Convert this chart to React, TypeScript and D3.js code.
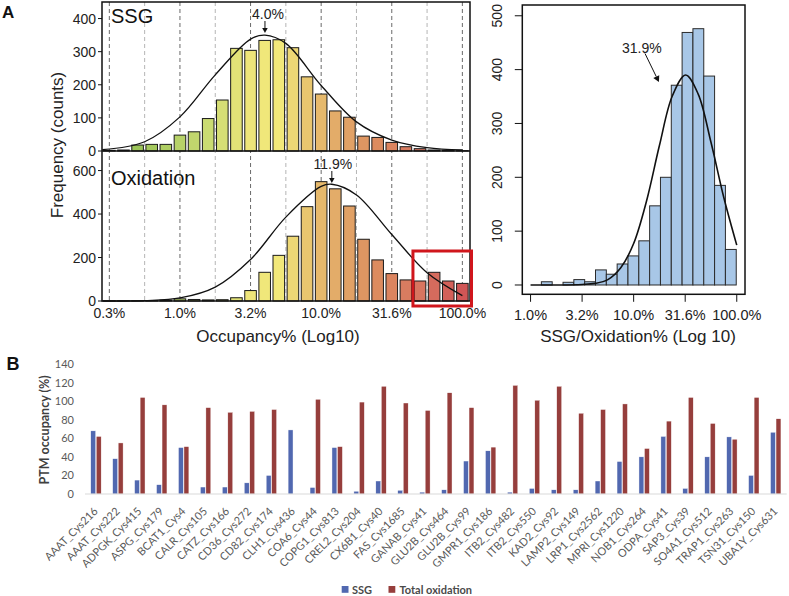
import React from 'react';
import * as d3 from 'd3';

// ---------- Panel A (left): log10 occupancy histograms ----------
const histBinCenters = [-0.5, -0.4, -0.3, -0.2, -0.1, 0.0, 0.1, 0.2, 0.3, 0.4, 0.5, 0.6, 0.7, 0.8, 0.9, 1.0, 1.1, 1.2, 1.3, 1.4, 1.5, 1.6, 1.7, 1.8, 1.9, 2.0];
const ssgCounts = [2, 3, 18, 20, 20, 48, 58, 98, 154, 310, 304, 334, 336, 312, 224, 172, 121, 102, 45, 41, 26, 13, 7, 3, 2, 1];
const oxCounts = [1, 1, 1, 2, 4, 10, 7, 5, 6, 15, 48, 132, 210, 298, 434, 549, 516, 437, 284, 189, 126, 97, 92, 132, 92, 81];

const ssgFitX = [-0.55, -0.25, 0.0, 0.25, 0.5, 0.602, 0.75, 1.0, 1.25, 1.5, 1.75, 2.0];
const ssgFitY = [4, 28, 103, 230, 338, 350, 325, 198, 88, 33, 10, 3];
const oxFitX = [-0.55, -0.25, 0.0, 0.25, 0.5, 0.75, 1.0, 1.0755, 1.25, 1.5, 1.75, 2.0];
const oxFitY = [0, 2, 14, 64, 191, 386, 527, 537, 488, 306, 130, 25];

const occGridLog = [-0.5, -0.25, 0, 0.25, 0.5, 0.75, 1.0, 1.25, 1.5, 1.75, 2.0];
const occTickLog = [-0.5, 0, 0.5, 1.0, 1.5, 2.0];
const occTickLabels = ['0.3%', '1.0%', '3.2%', '10.0%', '31.6%', '100.0%'];
const ssgYTicks = [0, 100, 200, 300, 400];
const oxYTicks = [0, 200, 400, 600];
const ssgPeakLabel = '4.0%';
const ssgPeakLog = Math.log10(4.0);
const oxPeakLabel = '11.9%';
const oxPeakLog = Math.log10(11.9);

// ---------- Panel A (right): SSG/Oxidation ratio histogram ----------
const ratioBinLeft = [0.105, 0.21, 0.315, 0.42, 0.525, 0.63, 0.735, 0.84, 0.945, 1.05, 1.155, 1.26, 1.365, 1.47, 1.575, 1.68, 1.785, 1.89];
const ratioBinWidth = 0.105;
const ratioCounts = [6, 0, 5, 10, 6, 28, 20, 39, 54, 82, 147, 200, 371, 469, 476, 388, 185, 66];
const ratioFitX = [0, 0.25, 0.5, 0.625, 0.75, 0.875, 1.0, 1.125, 1.25, 1.375, 1.504, 1.625, 1.75, 1.875, 2.0];
const ratioFitY = [0, 0, 1, 3, 10, 32, 77, 156, 259, 351, 390, 355, 265, 162, 74];
const ratioXTickLog = [0, 0.5, 1.0, 1.5, 2.0];
const ratioXTickLabels = ['1.0%', '3.2%', '10.0%', '31.6%', '100.0%'];
const ratioYTicks = [0, 100, 200, 300, 400, 500];
const ratioPeakLabel = '31.9%';

// ---------- Panel B: PTM occupancy per site ----------
const sites = ['AAAT_Cys216', 'AAAT_Cys222', 'ADPGK_Cys415', 'ASPG_Cys179', 'BCAT1_Cys4', 'CALR_Cys105', 'CATZ_Cys166', 'CD36_Cys272', 'CD82_Cys174', 'CLH1_Cys436', 'COA6_Cys44', 'COPG1_Cys813', 'CREL2_Cys204', 'CX6B1_Cys40', 'FAS_Cys1685', 'GANAB_Cys41', 'GLU2B_Cys464', 'GLU2B_Cys99', 'GMPR1_Cys186', 'ITB2_Cys482', 'ITB2_Cys550', 'KAD2_Cys92', 'LAMP2_Cys149', 'LRP1_Cys2562', 'MPRI_Cys1220', 'NOB1_Cys264', 'ODPA_Cys41', 'SAP3_Cys39', 'SO4A1_Cys512', 'TRAP1_Cys263', 'TSN31_Cys150', 'UBA1Y_Cys631'];
const ssgOcc = [68, 38, 15, 10, 50, 7.5, 7.5, 12, 20, 69, 7, 50, 3, 14, 4, 2, 4.5, 35.5, 46.5, 2, 6, 4.5, 4.5, 14, 35, 40, 62, 6, 40, 61.5, 20, 66.5];
const oxOcc = [62, 55, 104, 96, 51, 93, 88, 89, 91, 0, 102, 51, 99, 116, 98, 90, 109, 93, 50.5, 117, 101, 116, 87, 91, 97, 49, 78.5, 104, 76, 59, 104, 81];
const occYTicks = [0, 20, 40, 60, 80, 100, 120, 140];

const ARIAL = '"Liberation Sans", Arial, Helvetica, sans-serif';
const CALIBRI = 'Lato, "Open Sans", sans-serif';

const colorScale = d3
  .scaleLinear<string>()
  .domain([-0.5, -0.2, 0.2, 0.5, 0.7, 0.9, 1.1, 1.4, 1.7, 2.0])
  .range(['#8CBE50', '#A4C85D', '#CADB72', '#EEE57A', '#F2E87A', '#E8C66F', '#E3AC69', '#DC8B5F', '#D87560', '#D05656']);

function Arrow({ x1, y1, x2, y2, head = 5 }: { x1: number; y1: number; x2: number; y2: number; head?: number }) {
  const ang = Math.atan2(y2 - y1, x2 - x1);
  const hw = head * 0.55;
  const bx = x2 - head * Math.cos(ang);
  const by = y2 - head * Math.sin(ang);
  const p1 = [bx + hw * Math.sin(ang), by - hw * Math.cos(ang)];
  const p2 = [bx - hw * Math.sin(ang), by + hw * Math.cos(ang)];
  return (
    <g>
      <line x1={x1} y1={y1} x2={bx} y2={by} stroke="#111" strokeWidth={1} />
      <polygon points={`${x2},${y2} ${p1[0]},${p1[1]} ${p2[0]},${p2[1]}`} fill="#111" />
    </g>
  );
}

function LeftPanel() {
  const x0 = 102, x1 = 470, yTop = 2, yMid = 151, yBot = 301;
  const x = d3.scaleLinear().domain([-0.552, 2.054]).range([x0, x1]);
  const yS = d3.scaleLinear().domain([0, 450]).range([yMid, yTop]);
  const yO = d3.scaleLinear().domain([0, 690]).range([yBot, yMid]);
  const barW = x(0.082) - x(0);
  const lineS = d3.line<number>().x((_, i) => x(ssgFitX[i])).y((d) => yS(d)).curve(d3.curveCatmullRom);
  const lineO = d3.line<number>().x((_, i) => x(oxFitX[i])).y((d) => yO(d)).curve(d3.curveCatmullRom);
  const majors = new Set(occTickLog);
  return (
    <g fontFamily={ARIAL}>
      {occGridLog.map((g) => (
        <line key={g} x1={x(g)} x2={x(g)} y1={yTop} y2={yBot}
          stroke={majors.has(g) ? '#6a6a6a' : '#b5b5b5'} strokeWidth={1} strokeDasharray="4,3" />
      ))}
      {histBinCenters.map((c, i) => (
        <rect key={'s' + c} x={x(c) - barW / 2} y={yS(ssgCounts[i])} width={barW}
          height={yMid - yS(ssgCounts[i])} fill={colorScale(c)} stroke="#1a1a1a" strokeWidth={1} />
      ))}
      {histBinCenters.map((c, i) => (
        <rect key={'o' + c} x={x(c) - barW / 2} y={yO(oxCounts[i])} width={barW}
          height={yBot - yO(oxCounts[i])} fill={colorScale(c)} stroke="#1a1a1a" strokeWidth={1} />
      ))}
      <path d={lineS(ssgFitY) || ''} fill="none" stroke="#111" strokeWidth={1.3} />
      <path d={lineO(oxFitY) || ''} fill="none" stroke="#111" strokeWidth={1.3} />
      <rect x={x0} y={yTop} width={x1 - x0} height={yBot - yTop} fill="none" stroke="#111" strokeWidth={1.5} />
      <line x1={x0} x2={x1} y1={yMid} y2={yMid} stroke="#111" strokeWidth={1.5} />
      {ssgYTicks.map((t) => (
        <g key={'ys' + t}>
          <line x1={x0 - 4} x2={x0} y1={yS(t)} y2={yS(t)} stroke="#111" />
          <text x={x0 - 6} y={yS(t)} dy="0.36em" textAnchor="end" fontSize={14} fill="#222">{t}</text>
        </g>
      ))}
      {oxYTicks.map((t) => (
        <g key={'yo' + t}>
          <line x1={x0 - 4} x2={x0} y1={yO(t)} y2={yO(t)} stroke="#111" />
          <text x={x0 - 6} y={yO(t)} dy="0.36em" textAnchor="end" fontSize={14} fill="#222">{t}</text>
        </g>
      ))}
      {occTickLog.map((t, i) => (
        <text key={'xt' + t} x={x(t)} y={318} textAnchor="middle" fontSize={14} fill="#222">{occTickLabels[i]}</text>
      ))}
      <text x={278} y={342} textAnchor="middle" fontSize={17} fill="#222">Occupancy% (Log10)</text>
      <text transform={`translate(63,145) rotate(-90)`} textAnchor="middle" fontSize={17} fill="#222">Frequency (counts)</text>
      <text x={111} y={23} fontSize={20} fill="#111">SSG</text>
      <text x={111} y={185} fontSize={20} fill="#111">Oxidation</text>
      <text x={x(ssgPeakLog) + 3} y={18.5} textAnchor="middle" fontSize={14} fill="#222">{ssgPeakLabel}</text>
      <Arrow x1={x(ssgPeakLog)} y1={21} x2={x(ssgPeakLog)} y2={33} head={5} />
      <text x={x(oxPeakLog) + 1} y={168.5} textAnchor="middle" fontSize={14} fill="#222">{oxPeakLabel}</text>
      <Arrow x1={x(oxPeakLog)} y1={171} x2={x(oxPeakLog)} y2={183} head={5} />
      <rect x={x(1.65)} y={yO(230)} width={x(2.054) - x(1.65) + 1.5} height={yBot - yO(230) + 5}
        fill="none" stroke="#D0161C" strokeWidth={3} />
    </g>
  );
}

function RightPanel() {
  const bx0 = 522.3, bx1 = 745, by0 = 5, by1 = 294.3;
  const x = d3.scaleLinear().domain([-0.08, 2.08]).range([bx0, bx1]);
  const y = d3.scaleLinear().domain([-17.3, 520]).range([by1, by0]);
  const line = d3.line<number>().x((_, i) => x(ratioFitX[i])).y((d) => y(d)).curve(d3.curveCatmullRom);
  return (
    <g fontFamily={ARIAL}>
      {ratioBinLeft.map((b, i) => (
        <rect key={b} x={x(b)} y={y(ratioCounts[i])} width={x(b + ratioBinWidth) - x(b)}
          height={y(0) - y(ratioCounts[i])} fill="#A8C7E7" stroke="#2b2b2b" strokeWidth={1} />
      ))}
      <path d={line(ratioFitY) || ''} fill="none" stroke="#111" strokeWidth={1.6} />
      <rect x={bx0} y={by0} width={bx1 - bx0} height={by1 - by0} fill="none" stroke="#111" strokeWidth={1.5} />
      {ratioYTicks.map((t) => (
        <g key={'ry' + t}>
          <line x1={bx0 - 7.5} x2={bx0} y1={y(t)} y2={y(t)} stroke="#111" strokeWidth={1} />
          <text transform={`translate(502,${y(t)}) rotate(-90)`} textAnchor="middle" fontSize={14} fill="#222">{t}</text>
        </g>
      ))}
      {ratioXTickLog.map((t, i) => (
        <g key={'rx' + t}>
          <line x1={x(t)} x2={x(t)} y1={by1} y2={by1 + 7.5} stroke="#111" strokeWidth={1} />
          <text x={x(t)} y={319.5} textAnchor="middle" fontSize={14.5} fill="#222">{ratioXTickLabels[i]}</text>
        </g>
      ))}
      <text x={638} y={342} textAnchor="middle" fontSize={17} fill="#222">SSG/Oxidation% (Log 10)</text>
      <text x={x(1.08)} y={52.5} textAnchor="middle" fontSize={14} fill="#222">{ratioPeakLabel}</text>
      <Arrow x1={x(1.11)} y1={y(430)} x2={x(1.245)} y2={y(377)} head={6} />
    </g>
  );
}

function BottomPanel() {
  const x = d3.scaleBand<string>().domain(sites).range([85, 786.7]).paddingInner(0).paddingOuter(0);
  const y = d3.scaleLinear().domain([0, 140]).range([494, 364]);
  const bw = 4.9;
  const cx = (s: string) => (x(s) as number) + x.bandwidth() / 2;
  return (
    <g fontFamily={CALIBRI}>
      {occYTicks.map((t) => (
        <text key={t} x={74} y={y(t)} dy="0.36em" textAnchor="end" fontSize={11} fill="#595959">{t}</text>
      ))}
      <text transform={`translate(49,430) rotate(-90)`} textAnchor="middle" fontSize={12.5} fontWeight="bold" fill="#404040">PTM occupancy (%)</text>
      {sites.map((s, i) => (
        <g key={s}>
          <rect x={cx(s) - 5.2} y={y(ssgOcc[i])} width={bw} height={y(0) - y(ssgOcc[i])} fill="#5168B0" stroke="#ffffff" strokeWidth={0.4} />
          <rect x={cx(s) + 0.3} y={y(oxOcc[i])} width={bw} height={y(0) - y(oxOcc[i])} fill="#963E3C" stroke="#ffffff" strokeWidth={0.4} />
        </g>
      ))}
      <line x1={85} x2={786.7} y1={y(0)} y2={y(0)} stroke="#D9D9D9" strokeWidth={1} />
      {sites.map((s) => (
        <text key={'l' + s} transform={`translate(${cx(s) + 2.5},${512}) rotate(-45)`} textAnchor="end" fontSize={11} fill="#595959">{s}</text>
      ))}
      <rect x={341.7} y={586} width={6.8} height={6.8} fill="#5168B0" />
      <text x={352} y={593.5} fontSize={11} fontWeight="bold" fill="#4a4a4a">SSG</text>
      <rect x={388.5} y={586} width={6.8} height={6.8} fill="#963E3C" />
      <text x={399.5} y={593.5} fontSize={11} fontWeight="bold" fill="#4a4a4a">Total oxidation</text>
    </g>
  );
}

export default function App() {
  return (
    <svg width={789} height={596} style={{ position: 'absolute', left: 0, top: 0, background: '#fff' }}>
      <rect width={789} height={596} fill="#fff" />
      <text x={2} y={18.3} fontFamily={ARIAL} fontWeight="bold" fontSize={17} fill="#111">A</text>
      <text x={6.5} y={370} fontFamily={ARIAL} fontWeight="bold" fontSize={18} fill="#111">B</text>
      <LeftPanel />
      <RightPanel />
      <BottomPanel />
    </svg>
  );
}
